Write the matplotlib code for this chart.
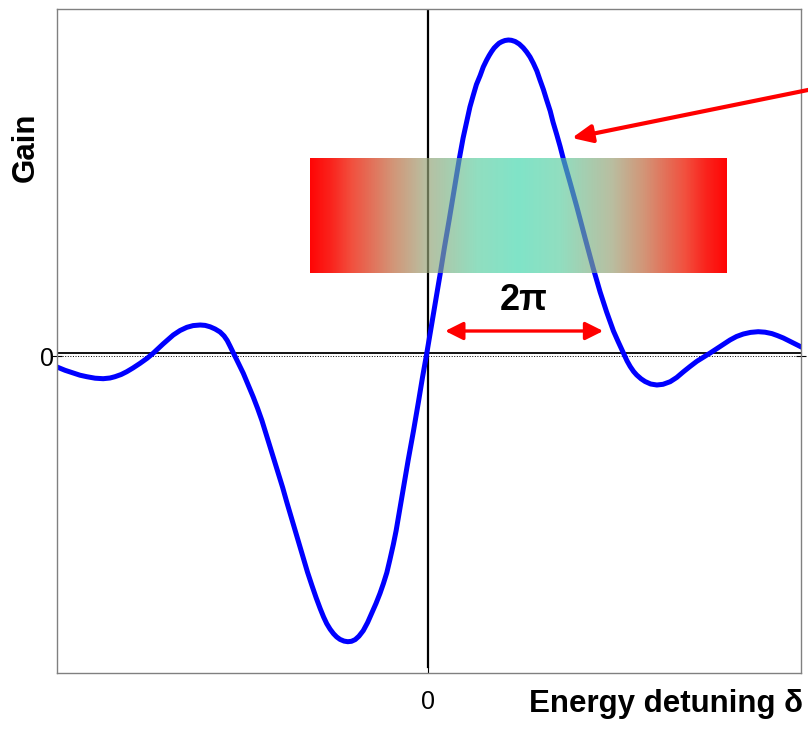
import numpy as np
import matplotlib
matplotlib.use("Agg")
import matplotlib.pyplot as plt

plt.rcParams['font.family'] = ['Liberation Sans', 'DejaVu Sans']

# gain curve (detuning and gain in arbitrary units)
detuning = [-11.97, -11.71, -11.44, -11.23, -11.01, -10.74, -10.48, -10.26, -10.10, -9.90,
            -9.72, -9.52, -9.29, -9.06, -8.86, -8.55, -8.22, -8.00, -7.78, -7.58,
            -7.35, -7.19, -7.03, -6.87, -6.71, -6.58, -6.48, -6.39, -6.28, -6.13,
            -5.96, -5.81, -5.64, -5.50, -5.36, -5.23, -5.10, -4.97, -4.83, -4.69,
            -4.56, -4.42, -4.29, -4.16, -4.02, -3.89, -3.75, -3.61, -3.48, -3.37,
            -3.27, -3.16, -3.05, -2.95, -2.84, -2.71, -2.59, -2.47, -2.35, -2.23,
            -2.09, -1.95, -1.82, -1.68, -1.55, -1.44, -1.33, -1.23, -1.12, -1.03,
            -0.96, -0.80, -0.64, -0.47, -0.31, -0.18, -0.04, 0.12, 0.26, 0.39,
            0.53, 0.68, 0.84, 1.01, 1.13, 1.25, 1.35, 1.46, 1.56, 1.68,
            1.78, 1.89, 1.97, 2.05, 2.13, 2.22, 2.29, 2.38, 2.48, 2.59,
            2.69, 2.81, 2.94, 3.07, 3.18, 3.29, 3.40, 3.51, 3.61, 3.72,
            3.82, 3.94, 4.03, 4.15, 4.26, 4.36, 4.58, 4.80, 5.06, 5.33,
            5.55, 5.76, 5.98, 6.13, 6.30, 6.42, 6.52, 6.63, 6.73, 6.87,
            7.00, 7.18, 7.38, 7.58, 7.81, 8.02, 8.24, 8.45, 8.67, 8.87,
            9.10, 9.42, 9.74, 9.95, 10.17, 10.40, 10.65, 10.87, 11.09, 11.27,
            11.46, 11.74, 12.02]
gain = [-1.40, -1.73, -2.00, -2.22, -2.37, -2.52, -2.57, -2.50, -2.37, -2.15,
        -1.87, -1.50, -1.03, -0.52, 0.00, 0.90, 1.80, 2.25, 2.57, 2.74,
        2.80, 2.76, 2.62, 2.40, 2.10, 1.70, 1.25, 0.70, 0.00, -0.95,
        -2.03, -3.15, -4.40, -5.53, -6.75, -8.05, -9.32, -10.62, -12.05, -13.46,
        -14.89, -16.36, -17.73, -19.09, -20.53, -21.91, -23.22, -24.48, -25.56, -26.40,
        -27.06, -27.62, -28.07, -28.39, -28.64, -28.81, -28.87, -28.83, -28.66, -28.32,
        -27.76, -26.95, -26.03, -25.05, -24.03, -23.05, -21.96, -20.65, -19.14, -17.76,
        -16.48, -13.58, -10.68, -7.78, -4.88, -2.44, 0.00, 2.95, 5.50, 7.90,
        10.60, 13.30, 16.30, 19.47, 21.50, 23.20, 24.60, 25.80, 26.85, 27.75,
        28.60, 29.30, 29.75, 30.15, 30.50, 30.78, 30.98, 31.13, 31.25, 31.30,
        31.27, 31.15, 30.90, 30.52, 30.10, 29.60, 28.95, 28.20, 27.30, 26.35,
        25.35, 24.20, 23.10, 21.85, 20.65, 19.45, 17.05, 14.60, 11.55, 8.45,
        6.10, 4.10, 2.20, 1.15, 0.00, -0.80, -1.35, -1.85, -2.20, -2.58,
        -2.85, -3.10, -3.20, -3.13, -2.87, -2.45, -1.87, -1.35, -0.83, -0.45,
        0.00, 0.65, 1.30, 1.65, 1.90, 2.06, 2.13, 2.08, 1.94, 1.74,
        1.50, 1.07, 0.63]

# energy spread band and annotations
band_x = [-3.81, 9.61]
band_y = [8.03, 19.47]
period_arrow_x = [0.55, 5.65]
period_arrow_y = 2.2
period_label = '2\u03c0'
pointer_start = (12.65, 26.55)
pointer_tip = (4.64, 21.5)

fig = plt.figure(figsize=(8.08, 7.33), dpi=100)
ax = fig.add_axes([57 / 808, 60 / 733, 744 / 808, 664 / 733])

ax.axhline(0, color='black', lw=1.3, zorder=1.5)
ax.axvline(0, ymin=0.009, ymax=0.9985, color='black', lw=1.6, zorder=1.5)
ax.plot(detuning, gain, color='#0000ff', lw=3.6, zorder=2, solid_joinstyle='round')

# gradient band: red at the edges, teal in the middle, partly see-through
d_stops = [0.0, 0.2, 0.45, 0.6, 0.8, 0.9, 1.0]
white_cols = np.array([[128, 228, 200], [145, 222, 192], [185, 190, 160],
                       [210, 150, 120], [242, 80, 62], [250, 35, 28], [255, 5, 5]]) / 255.0
t = np.linspace(-1, 1, 400)
d = np.abs(t)
on_white = np.stack([np.interp(d, d_stops, white_cols[:, k]) for k in range(3)], axis=1)
alpha = 0.62 + 0.38 * d ** 2
rgb = np.clip((on_white - (1 - alpha[:, None])) / alpha[:, None], 0, 1)
img = np.concatenate([rgb, alpha[:, None]], axis=1)[None, :, :]
ax.imshow(img, extent=[band_x[0], band_x[1], band_y[0], band_y[1]],
          aspect='auto', interpolation='bilinear', zorder=3)

ax.annotate('', xy=pointer_tip, xytext=pointer_start,
            arrowprops=dict(arrowstyle='-|>,head_length=0.6,head_width=0.27',
                            color='red', lw=3, mutation_scale=20,
                            shrinkA=0, shrinkB=0), annotation_clip=False, zorder=4)
ax.annotate('', xy=(period_arrow_x[1], period_arrow_y), xytext=(period_arrow_x[0], period_arrow_y),
            arrowprops=dict(arrowstyle='<|-|>,head_length=0.54,head_width=0.27',
                            color='red', lw=2.4, mutation_scale=20,
                            shrinkA=0, shrinkB=0), zorder=4)
ax.text(np.mean(period_arrow_x), 5.3, period_label, fontsize=26, fontweight='bold',
        ha='center', va='center', zorder=5)

ax.set_xlim(-11.97, 12.03)
ax.set_ylim(-32.0, 34.4)

ax.set_xticks([0])
ax.set_xticklabels(['0'], fontsize=18)
ax.set_yticks([-0.3])
ax.set_yticklabels(['0'], fontsize=18)
ax.tick_params(axis='x', direction='in', length=4.5, width=0.8, pad=12, top=False)
ax.tick_params(axis='y', direction='inout', length=7.5, width=0.8, pad=-1.5, right=True)
ax.grid(axis='y', color='black', ls=':', lw=0.7)

for s in ax.spines.values():
    s.set_color('#808080')
    s.set_linewidth(1.0)

fig.text(26 / 808, 1 - 147 / 733, 'Gain', rotation=90, fontsize=22.5, fontweight='bold',
         ha='center', va='center')
fig.text(803 / 808, 1 - 712 / 733, 'Energy detuning \u03b4', fontsize=22.5, fontweight='bold',
         ha='right', va='baseline')

fig.savefig('out.png', dpi=100)
